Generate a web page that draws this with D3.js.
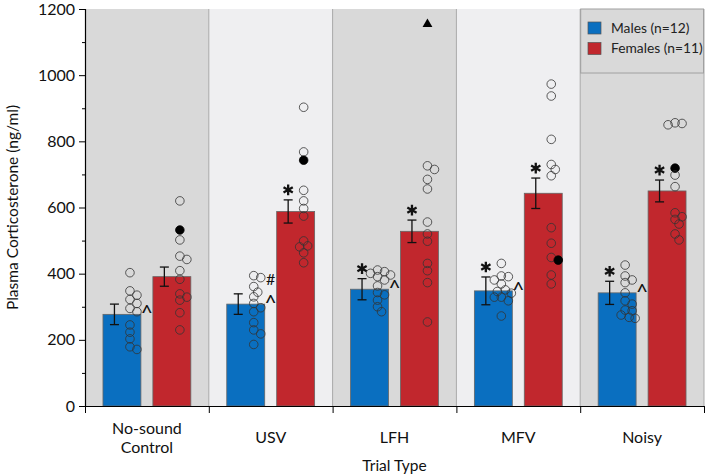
<!DOCTYPE html>
<html>
<head>
<meta charset="utf-8">
<script src="https://cdn.jsdelivr.net/npm/d3@7"></script>
<style>
  html, body { margin: 0; padding: 0; background: #ffffff; }
  svg { display: block; font-family: Lato, "Open Sans", sans-serif; }
</style>
</head>
<body>
<svg id="chart" width="708" height="475"></svg>
<script>
// ---------------- data ----------------
const categories = ["No-sound Control", "USV", "LFH", "MFV", "Noisy"];
const categoryLabels = [["No-sound", "Control"], ["USV"], ["LFH"], ["MFV"], ["Noisy"]];
const yTickValues = [0, 200, 400, 600, 800, 1000, 1200];
const seriesNames = ["Males (n=12)", "Females (n=11)"];

const maleMeans = [277, 308, 353, 348, 342];
const maleSEM = [31, 31, 32, 42, 35];
const femaleMeans = [391, 588, 528, 643, 650];
const femaleSEM = [29, 35, 34, 46, 33];

const malePoints = [
  [403, 348, 335, 322, 310, 295, 285, 245, 223, 203, 179, 171],
  [394, 388, 361, 344, 330, 310, 297, 285, 252, 230, 218, 186],
  [411, 406, 401, 396, 391, 381, 363, 343, 336, 320, 300, 285],
  [431, 393, 391, 381, 369, 351, 346, 341, 329, 329, 318, 272],
  [426, 393, 381, 373, 342, 318, 308, 290, 288, 275, 268, 265]
];
const femalePoints = [
  [620, 502, 453, 443, 409, 383, 339, 329, 320, 282, 230],
  [903, 768, 652, 620, 597, 574, 499, 484, 481, 463, 433],
  [726, 715, 685, 656, 556, 520, 498, 431, 409, 373, 254],
  [973, 937, 806, 730, 715, 696, 539, 492, 449, 396, 369],
  [856, 854, 850, 698, 663, 584, 572, 564, 550, 520, 502]
];
const femaleFilled = [532, 743, null, 441, 719];
const femaleTriangle = [null, null, 1154, null, null];

// significance marks
const maleStar = [false, false, true, true, true];
const femaleStar = [false, true, true, true, true];
const maleCaret = [true, true, true, true, true];
const maleHash = [false, true, false, false, false];

// ---------------- layout ----------------
const svg = d3.select("#chart");
const pLeft = 85, pRight = 704, pTop = 9, pBottom = 406;
const colors = { male: "#0a6fc0", female: "#c1272d" };

const x = d3.scaleBand().domain(categories).range([pLeft, pRight]).paddingInner(0).paddingOuter(0);
const xSex = d3.scaleBand().domain(["M", "F"]).range([0, x.bandwidth()]).paddingInner(0.24).paddingOuter(0.36);
const xIdx = d3.scaleLinear().domain([0, categories.length]).range([pLeft, pRight]);
const y = d3.scaleLinear().domain([0, 1200]).range([pBottom, pTop]);

// backgrounds
svg.append("g").selectAll("rect").data(categories).join("rect")
  .attr("x", d => x(d)).attr("y", pTop)
  .attr("width", x.bandwidth()).attr("height", pBottom - pTop)
  .attr("fill", (d, i) => i % 2 === 0 ? "#d9d9d9" : "#efeff1");

// separators
svg.append("g").selectAll("line").data(d3.range(1, categories.length + 1)).join("line")
  .attr("x1", d => xIdx(d)).attr("x2", d => xIdx(d))
  .attr("y1", pTop).attr("y2", pBottom)
  .attr("stroke", "#a9a9a9").attr("stroke-width", 1);

// legend box
const lg = svg.append("g");
lg.append("rect").attr("x", xIdx(4) + 0.5).attr("y", pTop).attr("width", pRight - xIdx(4) - 1).attr("height", 64)
  .attr("fill", "none").attr("stroke", "#a0a0a0");
[colors.male, colors.female].forEach((c, i) => {
  lg.append("rect").attr("x", 588).attr("y", 22 + i * 20.5).attr("width", 13).attr("height", 12)
    .attr("fill", c).attr("stroke", "#555").attr("stroke-width", 0.7);
  lg.append("text").attr("x", 611).attr("y", 28 + i * 20.5).attr("dy", "0.35em")
    .attr("font-size", 13.8).attr("fill", "#222").text(seriesNames[i]);
});

// bars
const barData = [];
categories.forEach((c, i) => {
  barData.push({ c, i, sex: "M", mean: maleMeans[i], sem: maleSEM[i], pts: malePoints[i], color: colors.male });
  barData.push({ c, i, sex: "F", mean: femaleMeans[i], sem: femaleSEM[i], pts: femalePoints[i], color: colors.female });
});
const bx = d => x(d.c) + xSex(d.sex);
const bw = xSex.bandwidth();

svg.append("g").selectAll("rect").data(barData).join("rect")
  .attr("x", d => bx(d)).attr("y", d => y(d.mean))
  .attr("width", bw).attr("height", d => y(0) - y(d.mean))
  .attr("fill", d => d.color).attr("stroke", "#666").attr("stroke-width", 0.8);

// error bars
const ebOffset = -7.5, capW = 4.5;
const eb = svg.append("g").attr("stroke", "#111").attr("stroke-width", 1.3);
barData.forEach(d => {
  const cx = bx(d) + bw / 2 + ebOffset;
  eb.append("line").attr("x1", cx).attr("x2", cx).attr("y1", y(d.mean + d.sem)).attr("y2", y(d.mean - d.sem));
  eb.append("line").attr("x1", cx - capW).attr("x2", cx + capW).attr("y1", y(d.mean + d.sem)).attr("y2", y(d.mean + d.sem));
  eb.append("line").attr("x1", cx - capW).attr("x2", cx + capW).attr("y1", y(d.mean - d.sem)).attr("y2", y(d.mean - d.sem));
});

// beeswarm-like placement of points
function swarm(values, cx, minDist) {
  const placed = [];
  const order = values.map((v, k) => ({ v, k })).sort((a, b) => b.v - a.v);
  const offs = [0, 4, -4, 7, -7, 10, -10, 13, -13];
  order.forEach(o => {
    const py = y(o.v);
    let best = offs[0];
    for (const off of offs) {
      const ok = placed.every(p => Math.hypot(p.x - (cx + off), p.y - py) >= minDist);
      best = off;
      if (ok) break;
    }
    placed.push({ x: cx + best, y: py, v: o.v });
  });
  return placed;
}
const ptOffset = 8, r = 4.3;
const pg = svg.append("g");
barData.forEach(d => {
  const cx = bx(d) + bw / 2 + ptOffset;
  const filled = d.sex === "F" ? femaleFilled[d.i] : null;
  const all = d.pts.slice();
  if (filled != null) all.push(filled);
  const placed = swarm(all, cx, 6);
  placed.forEach(p => {
    const isFilled = filled != null && p.v === filled;
    pg.append("circle").attr("cx", p.x).attr("cy", p.y).attr("r", r)
      .attr("fill", isFilled ? "#000" : "none")
      .attr("stroke", isFilled ? "#000" : "#333").attr("stroke-width", 0.8);
  });
  if (d.sex === "F" && femaleTriangle[d.i] != null) {
    pg.append("path").attr("d", d3.symbol(d3.symbolTriangle, 42)())
      .attr("transform", `translate(${cx},${y(femaleTriangle[d.i])})`).attr("fill", "#000");
  }
});

// significance marks
const mk = svg.append("g").attr("fill", "#111");
const starPath = d3.symbol(d3.symbolAsterisk, 80)();
barData.forEach(d => {
  const cx = bx(d) + bw / 2 + ebOffset;
  const star = d.sex === "M" ? maleStar[d.i] : femaleStar[d.i];
  if (star) {
    mk.append("path").attr("d", starPath)
      .attr("transform", `translate(${cx},${y(d.mean + d.sem) - 10})`)
      .attr("fill", "none").attr("stroke", "#111").attr("stroke-width", 2.3);
  }
  if (d.sex === "M") {
    const gx = bx(d) + bw + (xSex.step() - bw) / 2;
    if (maleCaret[d.i]) {
      mk.append("text").attr("x", gx).attr("y", y(d.mean) + 6).attr("text-anchor", "middle")
        .attr("font-size", 21).text("^");
    }
    if (maleHash[d.i]) {
      mk.append("text").attr("x", gx).attr("y", y(d.mean) - 19).attr("text-anchor", "middle")
        .attr("font-size", 16).text("#");
    }
  }
});

// y axis
const yAxis = svg.append("g").attr("transform", `translate(${pLeft},0)`)
  .call(d3.axisLeft(y).tickValues(yTickValues).tickSize(6).tickPadding(4).tickFormat(d3.format("d")));
yAxis.select(".domain").attr("stroke", "#000").attr("stroke-width", 1.2);
yAxis.selectAll(".tick line").attr("stroke", "#000");
yAxis.selectAll(".tick text").attr("font-size", 16).attr("font-family", "Lato, sans-serif").attr("fill", "#111");
svg.append("g").attr("transform", `translate(${pLeft},0)`)
  .call(d3.axisLeft(y).tickValues(d3.range(100, 1200, 200)).tickSize(3).tickFormat(""))
  .call(g => g.select(".domain").remove())
  .selectAll(".tick line").attr("stroke", "#000");

// x axis
const xAxis = svg.append("g").attr("transform", `translate(0,${pBottom})`)
  .call(d3.axisBottom(xIdx).tickValues(d3.range(0, categories.length + 1)).tickSize(7).tickSizeOuter(0).tickFormat(""));
xAxis.select(".domain").attr("stroke", "#000").attr("stroke-width", 1.2);
xAxis.selectAll(".tick line").attr("stroke", "#000");

const xl = svg.append("g").attr("font-size", 16).attr("fill", "#111").attr("text-anchor", "middle");
categories.forEach((c, i) => {
  const lines = categoryLabels[i];
  const cx = x(c) + x.bandwidth() / 2;
  const y0 = lines.length === 1 ? 437 : 428;
  lines.forEach((t, k) => {
    xl.append("text").attr("x", cx).attr("y", y0 + k * 19).attr("dy", "0.35em").text(t);
  });
});

svg.append("text").attr("x", (pLeft + pRight) / 2).attr("y", 466).attr("dy", "0.35em")
  .attr("text-anchor", "middle").attr("font-size", 15.5).attr("fill", "#111").text("Trial Type");

svg.append("text").attr("transform", `translate(13,${(pTop + pBottom) / 2}) rotate(-90)`)
  .attr("dy", "0.35em").attr("text-anchor", "middle").attr("font-size", 15.5).attr("fill", "#111")
  .text("Plasma Corticosterone (ng/ml)");
</script>
</body>
</html>
